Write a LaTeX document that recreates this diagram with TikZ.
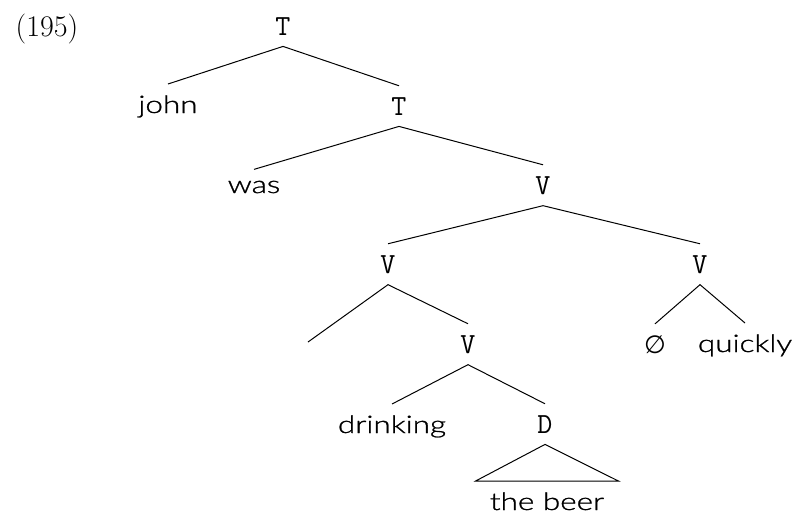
\documentclass[tikz,border=0pt]{standalone}
\usepackage{fontspec}
\usepackage{graphicx}
\newfontfamily\symbfont{DejaVu Sans}
\newfontfamily\leaffont{Lato Light}[FakeBold=0.9]
\newcommand{\leafstretch}[1]{\scalebox{1.3}[1]{#1}}
\begin{document}
\begin{tikzpicture}[x=0.5pt,y=-0.5pt,
  cat/.style={inner sep=5.5pt,anchor=base,font=\fontsize{14.6}{17}\selectfont\ttfamily},
  leaf/.style={inner sep=5.5pt,anchor=base,font=\fontsize{12.1}{15}\selectfont\leaffont},
  branch/.style={line width=0.5pt}]
\useasboundingbox (0,0) rectangle (796,516);
\node[anchor=base,inner sep=0pt,font=\fontsize{15}{18}\selectfont\rmfamily] (num) at (47,36) {(195)};
\node[cat] (t1) at (283,35) {T};
\node[leaf] (john) at (168,113) {\leafstretch{john}};
\node[cat] (t2) at (399,115) {T};
\node[leaf] (was) at (254,193) {\leafstretch{was}};
\node[cat] (v1) at (543,194) {V};
\node[cat] (v2) at (388,273) {V};
\node[cat] (v3) at (700,273) {V};
\coordinate (e) at (308,342);
\node[cat] (v4) at (468,353) {V};
\node[leaf,font=\fontsize{12.5}{15}\selectfont\symbfont] (nul) at (655,353) {∅};
\node[leaf] (quickly) at (745,352) {\leafstretch{quickly}};
\node[leaf] (drinking) at (392,433) {\leafstretch{drinking}};
\node[cat] (d) at (545,433) {D};
\node[leaf,minimum width=71pt] (beer) at (547,510) {\leafstretch{the beer}};
\draw[branch] (john.north) -- (t1.south) -- (t2.north);
\draw[branch] (was.north) -- (t2.south) -- (v1.north);
\draw[branch] (v2.north) -- (v1.south) -- (v3.north);
\draw[branch] (e) -- (v2.south) -- (v4.north);
\draw[branch] (nul.north) -- (v3.south) -- (quickly.north);
\draw[branch] (drinking.north) -- (v4.south) -- (d.north);
\draw[branch] (d.south) -- (beer.north west) -- (beer.north east) -- cycle;
\end{tikzpicture}
\end{document}
